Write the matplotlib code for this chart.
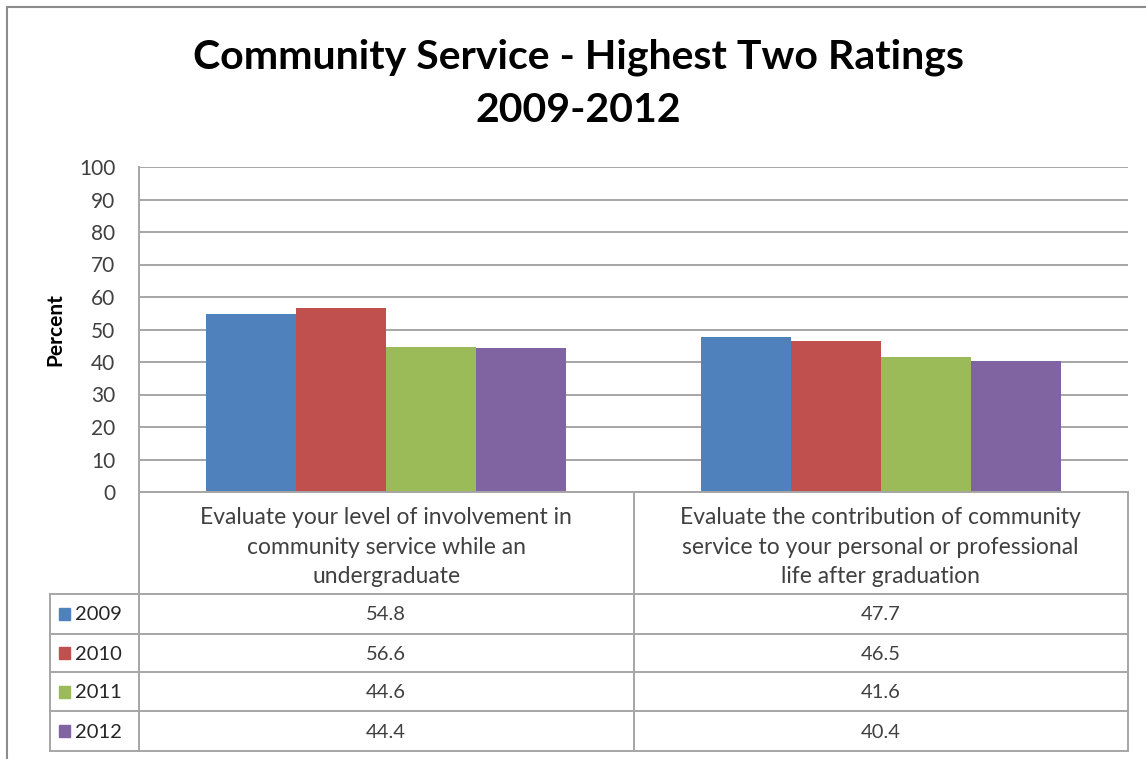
import matplotlib
matplotlib.use('Agg')
import matplotlib.pyplot as plt
from matplotlib.lines import Line2D
from matplotlib.patches import Rectangle
import numpy as np

categories = [
    'Evaluate your level of involvement in\ncommunity service while an\nundergraduate',
    'Evaluate the contribution of community\nservice to your personal or professional\nlife after graduation',
]
years = ['2009', '2010', '2011', '2012']
values_2009 = [54.8, 47.7]
values_2010 = [56.6, 46.5]
values_2011 = [44.6, 41.6]
values_2012 = [44.4, 40.4]
series = [values_2009, values_2010, values_2011, values_2012]
colors = ['#4F81BD', '#C0504D', '#9BBB59', '#8064A2']

plt.rcParams['font.family'] = ['Lato', 'DejaVu Sans']

W, H = 1146, 759
fig = plt.figure(figsize=(W / 100, H / 100), dpi=100)


def fx(x):
    return x / W


def fy(y):
    return 1 - y / H


# plot area in pixels
left, right, top, bottom = 139, 1128, 167, 492
ax = fig.add_axes([fx(left), fy(bottom), fx(right) - fx(left), fy(top) - fy(bottom)])

n = len(series)
bw = 1 / (n + 1.5)
x = np.arange(len(categories))
for i, (vals, col) in enumerate(zip(series, colors)):
    ax.bar(x + (i - (n - 1) / 2) * bw, vals, bw, color=col, zorder=3)

grid_col = '#a6a6a6'
ax.set_xlim(-0.5, len(categories) - 0.5)
ax.set_ylim(0, 100)
ax.set_yticks(range(0, 101, 10))
ax.set_xticks([])
ax.yaxis.grid(True, color=grid_col, linewidth=1.4, zorder=0)
for s in ['top', 'right', 'bottom']:
    ax.spines[s].set_visible(False)
ax.spines['left'].set_color(grid_col)
ax.spines['left'].set_linewidth(1.4)
ax.tick_params(axis='y', length=0, pad=17, labelsize=15, labelcolor='#404040')
ax.set_ylabel('Percent', fontsize=15, fontweight='bold', labelpad=10)

fig.text(0.505, fy(57), 'Community Service - Highest Two Ratings', ha='center', va='center',
         fontsize=29.5, fontweight='bold')
fig.text(0.505, fy(110), '2009-2012', ha='center', va='center',
         fontsize=29.5, fontweight='bold')

# outer chart border
fig.add_artist(Rectangle((fx(7), fy(770)), fx(1160) - fx(7), fy(7) - fy(770),
                         transform=fig.transFigure, fill=False, edgecolor='#8c8c8c', linewidth=1.5))

# data table
rows_y = [594, 634, 672, 711, 751]
mid = (left + right) / 2
tbl_left = 50


def hline(y, x0, x1):
    fig.add_artist(Line2D([fx(x0), fx(x1)], [fy(y), fy(y)], color=grid_col, linewidth=1.4))


def vline(xp, y0, y1):
    fig.add_artist(Line2D([fx(xp), fx(xp)], [fy(y0), fy(y1)], color=grid_col, linewidth=1.4))


hline(bottom, left, right)
for y in rows_y:
    hline(y, tbl_left, right)
for xp in [left, mid, right]:
    vline(xp, bottom, rows_y[-1])
vline(tbl_left, rows_y[0], rows_y[-1])

col_centers = [(left + mid) / 2, (mid + right) / 2]
for cx, label in zip(col_centers, categories):
    fig.text(fx(cx), fy((bottom + rows_y[0]) / 2 + 4), label, ha='center', va='center',
             fontsize=16.5, color='#404040', linespacing=1.5)

for r, (yr, vals, col) in enumerate(zip(years, series, colors)):
    yc = (rows_y[r] + rows_y[r + 1]) / 2
    fig.add_artist(Rectangle((fx(59), fy(yc + 6)), fx(11), fy(0) - fy(12),
                             transform=fig.transFigure, color=col))
    fig.text(fx(75), fy(yc + 1), yr, ha='left', va='center', fontsize=14.5, color='#262626')
    for cx, v in zip(col_centers, vals):
        fig.text(fx(cx), fy(yc + 1), f'{v:.1f}', ha='center', va='center', fontsize=14.5,
                 color='#404040')

fig.savefig('out.png', dpi=100)
